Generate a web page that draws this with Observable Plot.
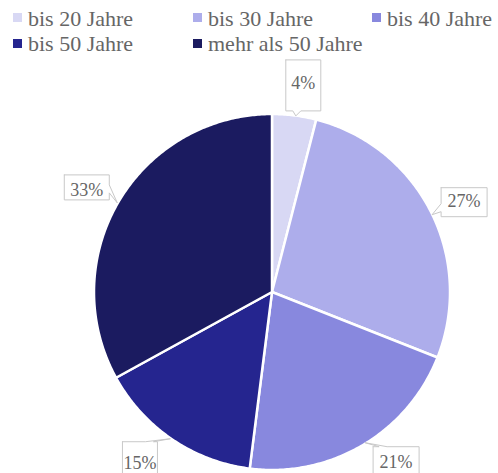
<!DOCTYPE html>
<html><head><meta charset="utf-8">
<script src="https://cdn.jsdelivr.net/npm/d3@7"></script>
<script src="https://cdn.jsdelivr.net/npm/@observablehq/plot@0.6"></script>
<style>
html, body, div, svg, g, text, tspan { font-family: 'Liberation Serif', 'Times New Roman', serif !important; }
body{margin:0;background:#fff;}
#chart svg{display:block;}
</style></head><body>
<div id="legend" style="position:relative;width:498px;height:56px;font-size:22px;color:#666"></div>
<div id="chart"></div>
<script>
// ---- data ----
const categories = ["bis 20 Jahre", "bis 30 Jahre", "bis 40 Jahre", "bis 50 Jahre", "mehr als 50 Jahre"];
const shares = [4, 27, 21, 15, 33];
const shareLabels = ["4%", "27%", "21%", "15%", "33%"];
const colors = ["#d8d8f4", "#adadeb", "#8888de", "#25258f", "#1b1b60"];

const SERIF = "serif";

// ---- legend ----
const legend = document.getElementById("legend");
const colX = [13, 193, 372];
categories.forEach((c, i) => {
  const col = i % 3, row = Math.floor(i / 3);
  const sw = document.createElement("div");
  sw.style.cssText = "position:absolute;width:9px;height:9px;left:" + colX[col] + "px;top:" + (13 + row * 26) + "px;background:" + colors[i];
  legend.appendChild(sw);
  const t = document.createElement("div");
  t.style.cssText = "position:absolute;white-space:nowrap;line-height:22px;font-size:22px;color:#666;left:" + (colX[col] + 15) + "px;top:" + (8 + row * 25) + "px";
  t.textContent = c;
  legend.appendChild(t);
});

// ---- pie geometry ----
const W = 498, H = 417;
const R = 178, cx = 272, cy = 236;
const arcs = d3.pie().sort(null)(shares);

const slicePts = [];
arcs.forEach((a, i) => {
  const n = Math.max(2, Math.ceil((a.endAngle - a.startAngle) / 0.01));
  for (let k = 0; k <= n; k++) {
    const t = a.startAngle + (a.endAngle - a.startAngle) * k / n;
    slicePts.push({cat: categories[i], x1: 0, y1: 0, x2: Math.sin(t), y2: -Math.cos(t)});
  }
});

// callout layout (pixel offsets relative to the slice's outer mid point)
const callouts = [
  {box: [-9, -56, 26, -5], side: "bottom", base: [-2, 6], tip: [1, 0], text: [8.5, -33]},
  {box: [10, -24, 56, 5], side: "left", base: [-8, 0], tip: [1, 3], text: [33, -10]},
  {box: [10, 1, 56, 45], side: "top", base: [16, 24], tip: [2, -3], text: [33, 17]},
  {box: [-50, 2, -15, 45], side: "top", base: [-27, -19], tip: [-2, -1], text: [-32.5, 23.5]},
  {box: [-55, -27, -10, -2], side: "right", base: [-17, -9], tip: [-2, 1], text: [-32.5, -12]}
];

const boxPts = [];
const textPts = [];
arcs.forEach((a, i) => {
  const m = (a.startAngle + a.endAngle) / 2;
  const ax = Math.sin(m), ay = -Math.cos(m);
  const c = callouts[i];
  const [l, t, r, b] = c.box;
  const [b0, b1] = c.base;
  let poly = [];
  poly.push([l, t]);
  if (c.side === "top") poly.push([b0, t], c.tip, [b1, t]);
  poly.push([r, t]);
  if (c.side === "right") poly.push([r, b0], c.tip, [r, b1]);
  poly.push([r, b]);
  if (c.side === "bottom") poly.push([b1, b], c.tip, [b0, b]);
  poly.push([l, b]);
  if (c.side === "left") poly.push([l, b1], c.tip, [l, b0]);
  poly.push([l, t]);
  poly.forEach(([px, py]) => boxPts.push({id: i, x: ax + px / R, y: ay + py / R}));
  textPts.push({label: shareLabels[i], x: ax + c.text[0] / R, y: ay + c.text[1] / R});
});

const chart = Plot.plot({
  width: W,
  height: H,
  x: {domain: [-1, 1], range: [cx - R, cx + R], axis: null},
  y: {domain: [-1, 1], range: [cy - R, cy + R], axis: null},
  color: {domain: categories, range: colors},
  style: {fontFamily: SERIF, background: "white"},
  marks: [
    Plot.area(slicePts, {x1: "x1", y1: "y1", x2: "x2", y2: "y2", z: "cat", fill: "cat", stroke: "white", strokeWidth: 2.5, strokeLinejoin: "round"}),
    Plot.line(boxPts, {x: "x", y: "y", z: "id", fill: "white", stroke: "#c8c8c8", strokeWidth: 1, curve: "linear"}),
    Plot.text(textPts, {x: "x", y: "y", text: "label", fontSize: 18, fill: "#666", textAnchor: "middle", fontFamily: SERIF})
  ]
});
document.getElementById("chart").appendChild(chart);
</script>
</body></html>
